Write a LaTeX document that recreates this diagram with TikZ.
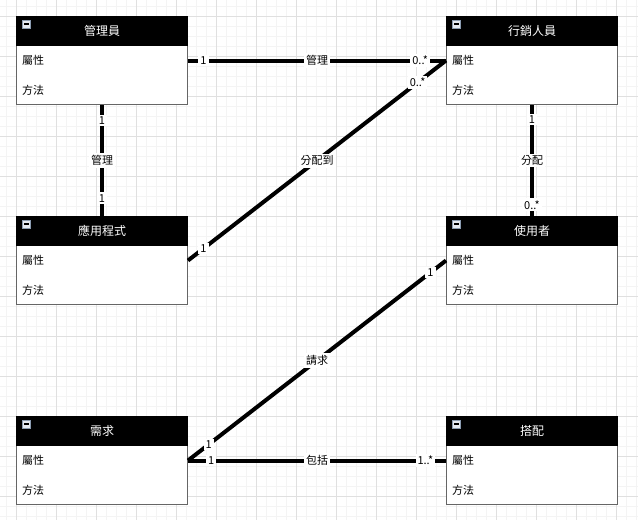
\documentclass[tikz,border=0pt]{standalone}
\usepackage{fontspec}
\setmainfont{Noto Sans CJK TC}
\usetikzlibrary{positioning}

\definecolor{gridminor}{HTML}{F4F4F4}
\definecolor{gridmajor}{HTML}{E0E0E0}
\definecolor{boxline}{HTML}{666666}
\definecolor{iconfill}{HTML}{E4EAF2}
\definecolor{iconline}{HTML}{8A9BB0}

% one class box: name, position of north west corner, title
\newcommand{\umlclass}[3]{%
  \node[classbox] (#1) at (#2) {};
  \fill[black] (#1.north west) rectangle ([yshift=-30pt]#1.north east);
  \node[classtitle] (#1-title) at ([yshift=-15pt]#1.north) {#3};
  \node[classicon] (#1-icon) at ([xshift=10pt,yshift=-8pt]#1.north west) {};
  \node[classitem] (#1-attr) at ([xshift=6pt,yshift=-44pt]#1.north west) {屬性};
  \node[classitem] (#1-ops) at ([xshift=6pt,yshift=-74pt]#1.north west) {方法};
}

\begin{document}
\begin{tikzpicture}[x=1pt, y=-1pt,
    classbox/.style={rectangle, draw=boxline, fill=white, line width=1pt, anchor=north west,
      minimum width=171pt, minimum height=88pt, inner sep=0pt},
    classtitle/.style={text=white, font=\fontsize{12}{14}\selectfont, inner sep=0pt},
    classitem/.style={anchor=west, text=black, font=\fontsize{11}{13}\selectfont, inner sep=0pt},
    classicon/.style={rectangle, draw=iconline, fill=iconfill, line width=0.8pt, minimum size=8pt, inner sep=0pt,
      path picture={\fill[black] ([xshift=-2.5pt,yshift=-0.8pt]path picture bounding box.center) rectangle ([xshift=2.5pt,yshift=0.8pt]path picture bounding box.center);}},
    assoc/.style={line width=4pt, black},
    lbl/.style={fill=white, text=black, inner sep=2pt, font=\fontsize{11}{13}\selectfont}]
        \useasboundingbox[fill=white] (0,0) rectangle (638,520);

        % background grid
        \foreach \g in {6,16,...,636} \draw[gridminor, line width=1pt] (\g,0) -- (\g,520);
        \foreach \g in {6,16,...,516} \draw[gridminor, line width=1pt] (0,\g) -- (638,\g);
        \foreach \g in {16,56,...,616} \draw[gridmajor, line width=1pt] (\g,0) -- (\g,520);
        \foreach \g in {16,56,...,496} \draw[gridmajor, line width=1pt] (0,\g) -- (638,\g);

        \umlclass{admin}{16,16}{管理員}
        \umlclass{marketer}{446,16}{行銷人員}
        \umlclass{app}{16,216}{應用程式}
        \umlclass{user}{446,216}{使用者}
        \umlclass{req}{16,416}{需求}
        \umlclass{match}{446,416}{搭配}

        \draw[assoc] (admin.east) -- node[lbl, pos=0.06] {1} node[lbl] {管理} node[lbl, pos=0.9] {0..*} (marketer.west);
        \draw[assoc] (admin.south) -- node[lbl, pos=0.14] {1} node[lbl] {管理} node[lbl, pos=0.84] {1} (app.north);
        \draw[assoc] (app.east) -- node[lbl, pos=0.06] {1} node[lbl] {分配到} node[lbl, pos=0.89] {0..*} (marketer.west);
        \draw[assoc] (marketer.south) -- node[lbl, pos=0.13] {1} node[lbl] {分配} node[lbl, pos=0.9] {0..*} (user.north);
        \draw[assoc] (req.east) -- node[lbl, pos=0.08] {1} node[lbl] {請求} node[lbl, pos=0.94] {1} (user.west);
        \draw[assoc] (req.east) -- node[lbl, pos=0.09] {1} node[lbl] {包括} node[lbl, pos=0.92] {1..*} (match.west);
      \end{tikzpicture}
\end{document}
